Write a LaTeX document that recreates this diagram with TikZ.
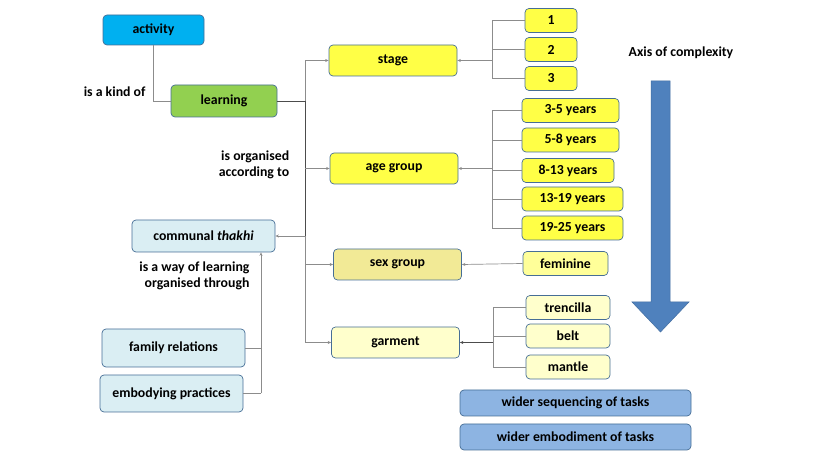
\documentclass[tikz,border=0pt]{standalone}
\usepackage{fontspec}
\setmainfont{Carlito}
\usetikzlibrary{arrows.meta,positioning,calc}
\definecolor{activity_color}{RGB}{0,176,240}
\definecolor{learning_color}{RGB}{146,208,80}
\definecolor{stage_color}{RGB}{255,255,70}
\definecolor{sex_color}{RGB}{242,234,150}
\definecolor{fem_color}{RGB}{255,255,153}
\definecolor{garment_color}{RGB}{255,255,204}
\definecolor{thakhi_color}{RGB}{218,238,243}
\definecolor{task_color}{RGB}{141,180,226}
\definecolor{axis_color}{RGB}{79,129,189}
\definecolor{border_color}{RGB}{70,110,150}
\definecolor{link_color}{RGB}{140,140,140}
\tikzset{
  box/.style={
    draw=border_color, line width=0.7pt, rounded corners=4pt,
    font=\fontsize{13.8}{16}\selectfont\bfseries, inner sep=0pt
  },
  bigbox/.style={box, minimum width=128pt, minimum height=31pt},
  leaf/.style={box, minimum height=24pt},
  lbl/.style={font=\fontsize{13.8}{16}\selectfont\bfseries, align=right},
  treelink/.style={draw=link_color, line width=0.7pt},
  arrowlink/.style={treelink, -{Stealth[length=3.5pt,width=3pt]}}
}

\begin{document}
\begin{tikzpicture}[x=1pt,y=-1pt]
\useasboundingbox (0,0) rectangle (815,462);

% upper part
\node[box, fill=activity_color, minimum width=101pt, minimum height=30pt] (activity) at (153.5,30) {activity};
\node[box, fill=learning_color, minimum width=106pt, minimum height=32pt] (learning) at (224,101) {learning};
\node[lbl, anchor=east] (kindof) at (149,92) {is a kind of};

\node[bigbox, fill=stage_color] (stage) at (393,60.5) {stage};
\node[bigbox, fill=stage_color] (agegroup) at (394,168.5) {age group};
\node[bigbox, fill=sex_color] (sexgroup) at (397.5,264.5) {sex group};
\node[bigbox, fill=garment_color] (garment) at (395.5,342.5) {garment};

\node[leaf, fill=stage_color, minimum width=52pt] (st1) at (551,20.5) {1};
\node[leaf, fill=stage_color, minimum width=52pt] (st2) at (551,49.5) {2};
\node[leaf, fill=stage_color, minimum width=52pt] (st3) at (551,78.5) {3};

\node[leaf, fill=stage_color, minimum width=97pt] (age1) at (570.5,110.5) {3-5 years};
\node[leaf, fill=stage_color, minimum width=97pt] (age2) at (570.5,140) {5-8 years};
\node[leaf, fill=stage_color, minimum width=92pt] (age3) at (568,170.5) {8-13 years};
\node[leaf, fill=stage_color, minimum width=101pt] (age4) at (572.5,199) {13-19 years};
\node[leaf, fill=stage_color, minimum width=101pt] (age5) at (572.5,228) {19-25 years};

\node[leaf, fill=fem_color, minimum width=85pt] (feminine) at (565.5,263.5) {feminine};

\node[leaf, fill=garment_color, minimum width=84pt] (trencilla) at (568,307.5) {trencilla};
\node[leaf, fill=garment_color, minimum width=84pt] (belt) at (568,336) {belt};
\node[leaf, fill=garment_color, minimum width=84pt] (mantle) at (568,367) {mantle};

% left part
\node[box, fill=thakhi_color, minimum width=143pt, minimum height=32pt] (thakhi) at (203.5,236) {communal \textit{thakhi}};
\node[box, fill=thakhi_color, minimum width=143pt, minimum height=38pt] (family) at (173.5,348) {family relations};
\node[box, fill=thakhi_color, minimum width=143pt, minimum height=37pt] (embody) at (171.5,393.5) {embodying practices};
\node[lbl] (organised) at (254,165) {is organised\\according to};
\node[lbl, anchor=north east] (wayof) at (253,258) {is a way of learning\\organised through};

% axis
\node[lbl] (axis) at (681,53) {Axis of complexity};
\draw[draw=axis_color!85!black, line width=0.5pt, fill=axis_color] (651,81) -- (670,81) -- (670,302) -- (689,302) -- (660.5,332) -- (632,302) -- (651,302) -- cycle;
\node[box, fill=task_color, minimum width=231pt, minimum height=26pt] (seq) at (575.5,403) {wider sequencing of tasks};
\node[box, fill=task_color, minimum width=231pt, minimum height=26pt] (emb) at (575.5,437) {wider embodiment of tasks};

% links
\draw[treelink] (activity.south) |- (learning.west);
\coordinate (spine) at (305,101);
\draw[treelink, draw=black!70] (learning.east) -- (spine) -- (spine |- thakhi.east);
\draw[treelink] (spine |- thakhi.east) -- (spine |- garment.west);
\draw[arrowlink] (spine |- stage.west) -- (stage.west);
\draw[treelink] (spine |- stage.west) -- (spine);
\draw[arrowlink] (spine |- agegroup.west) -- (agegroup.west);
\draw[arrowlink] (spine |- sexgroup.west) -- (sexgroup.west);
\draw[arrowlink] (spine |- garment.west) -- (garment.west);
\draw[arrowlink] (spine |- thakhi.east) -- (thakhi.east);

\coordinate (stagejoin) at (492,60.5);
\foreach \n in {st1,st2,st3} \draw[treelink] (\n.west) -- (stagejoin |- \n.west);
\draw[treelink] (stagejoin |- st1.west) -- (stagejoin |- st3.west);
\draw[arrowlink] (stagejoin) -- (stage.east);

\coordinate (agejoin) at (492,168.5);
\foreach \n in {age1,age2,age3,age4,age5} \draw[treelink] (\n.west) -- (agejoin |- \n.west);
\draw[treelink] (agejoin |- age1.west) -- (agejoin |- age5.west);
\draw[arrowlink] (agejoin) -- (agegroup.east);

\draw[arrowlink] (feminine.west) -- (sexgroup.east);

\coordinate (garmentjoin) at (493,342.5);
\foreach \n in {trencilla,belt,mantle} \draw[treelink] (\n.west) -- (garmentjoin |- \n.west);
\draw[treelink] (garmentjoin |- trencilla.west) -- (garmentjoin |- mantle.west);
\draw[arrowlink, draw=black!70] (garmentjoin) -- (garment.east);

\coordinate (thakhijoin) at (261,393.5);
\draw[treelink] (family.east) -- (thakhijoin |- family.east);
\draw[treelink] (embody.east) -- (thakhijoin);
\draw[arrowlink] (thakhijoin) -- (thakhijoin |- thakhi.south);

\end{tikzpicture}
\end{document}
